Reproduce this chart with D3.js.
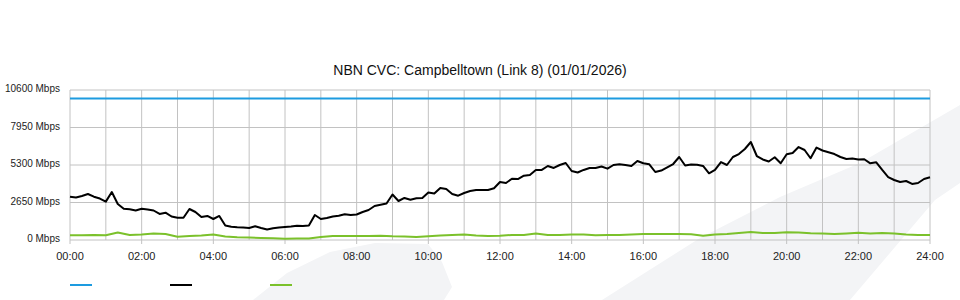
<!DOCTYPE html>
<html>
<head>
<meta charset="utf-8">
<script src="https://cdn.jsdelivr.net/npm/d3@7"></script>
<style>
  body { margin: 0; background: #fff; }
  svg { display: block; font-family: "Liberation Sans", Arial, sans-serif; }
</style>
</head>
<body>
<div id="chart"></div>
<script>
// Chart data (Mbps)
const chartTitle = "NBN CVC: Campbelltown (Link 8) (01/01/2026)";
const yTicks = [0, 2650, 5300, 7950, 10600];
const xTickLabels = ["00:00", "02:00", "04:00", "06:00", "08:00", "10:00", "12:00",
    "14:00", "16:00", "18:00", "20:00", "22:00", "24:00"];

// capacity line
const capacityHours = [0, 24];
const capacityValues = [10000, 10000];

// traffic, one sample every 10 minutes from 00:00 to 24:00
const trafficStepMinutes = 10;
const trafficValues = [
    3060, 3000, 3110, 3250, 3060, 2930, 2710, 3390, 2540, 2210, 2170, 2085,
    2205, 2155, 2085, 1840, 1930, 1660, 1575, 1575, 2190, 1980, 1625, 1700,
    1485, 1700, 1025, 940, 900, 885, 850, 970, 850, 740, 830, 885,
    920, 955, 1010, 990, 1025, 1765, 1485, 1555, 1660, 1715, 1815, 1765,
    1800, 1980, 2120, 2400, 2495, 2580, 3215, 2755, 2970, 2850, 2945, 2970,
    3355, 3285, 3675, 3605, 3250, 3130, 3320, 3465, 3535, 3535, 3535, 3655,
    4100, 4030, 4330, 4310, 4545, 4595, 4950, 4950, 5230, 5090, 5300, 5440,
    4875, 4770, 4950, 5090, 5090, 5195, 5040, 5300, 5350, 5300, 5230, 5580,
    5420, 5350, 4805, 4910, 5140, 5370, 5865, 5265, 5335, 5320, 5230, 4715,
    4950, 5510, 5300, 5865, 6075, 6430, 6925, 5935, 5690, 5550, 5845, 5420,
    6055, 6150, 6570, 6360, 5775, 6535, 6325, 6200, 6075, 5865, 5725, 5760,
    5690, 5705, 5420, 5490, 4950, 4450, 4240, 4100, 4170, 3960, 4030, 4310,
    4430
];

// second series, one sample every 20 minutes
const lowStepMinutes = 20;
const lowValues = [
    330, 330, 355, 330, 530, 355, 390, 460, 425, 235, 280, 320,
    390, 250, 190, 175, 140, 120, 90, 105, 105, 210, 280, 280,
    280, 280, 305, 260, 250, 210, 260, 320, 355, 390, 320, 280,
    305, 355, 355, 460, 355, 355, 390, 390, 330, 355, 355, 390,
    425, 425, 425, 425, 405, 305, 390, 425, 495, 565, 495, 495,
    545, 530, 475, 460, 425, 460, 510, 460, 495, 460, 390, 355,
    355
];

const seriesColors = { capacity: "#1d9be0", traffic: "#000000", low: "#7bc12b" };

const width = 960, height = 300;
const margin = { top: 90, right: 30, bottom: 60, left: 70 };

const svg = d3.select("#chart").append("svg").attr("width", width).attr("height", height);

// faint background watermark
svg.append("path")
    .attr("d", "M253,300 L287,273 L330,252 L375,243 L428,244 L442,262 L452,287 L444,300 Z")
    .attr("fill", "#f3f4f6");
svg.append("path")
    .attr("d", "M602,300 L700,238 L780,197 L860,163 L960,105 L960,183 L935,200 L850,300 Z")
    .attr("fill", "#f3f4f6");

const x = d3.scaleLinear().domain([0, 24]).range([margin.left, width - margin.right]);
const y = d3.scaleLinear().domain([0, 10600]).range([height - margin.bottom, margin.top]);

// grid
svg.append("g").selectAll("line").data(d3.range(0, 25)).enter().append("line")
    .attr("x1", d => x(d)).attr("x2", d => x(d))
    .attr("y1", y(10600)).attr("y2", d => d % 2 === 0 ? y(0) + 4 : y(0))
    .attr("stroke", "#c2c2c2").attr("stroke-width", 1);
svg.append("g").selectAll("line").data(yTicks).enter().append("line")
    .attr("x1", x(0)).attr("x2", x(24))
    .attr("y1", d => y(d)).attr("y2", d => y(d))
    .attr("stroke", "#c2c2c2").attr("stroke-width", 1);

// axis labels
svg.append("g").selectAll("text").data(yTicks).enter().append("text")
    .attr("x", margin.left - 10).attr("y", d => y(d) - 1.5).attr("dy", "0.35em")
    .attr("text-anchor", "end").style("font-size", "10px").attr("fill", "#222")
    .text(d => `${d} Mbps`);
svg.append("g").selectAll("text").data(xTickLabels).enter().append("text")
    .attr("x", (d, i) => x(i * 2)).attr("y", height - margin.bottom + 20)
    .attr("text-anchor", "middle").style("font-size", "11px").attr("fill", "#222")
    .text(d => d);

// title
svg.append("text").attr("x", width / 2).attr("y", 75).attr("text-anchor", "middle")
    .style("font-size", "14px").attr("fill", "#111").text(chartTitle);

// series
const line = d3.line().x(d => x(d[0])).y(d => y(d[1]));
const capacity = capacityHours.map((h, i) => [h, capacityValues[i]]);
const traffic = trafficValues.map((v, i) => [i * trafficStepMinutes / 60, v]);
const low = lowValues.map((v, i) => [i * lowStepMinutes / 60, v]);

svg.append("path").datum(capacity).attr("d", line)
    .attr("fill", "none").attr("stroke", seriesColors.capacity).attr("stroke-width", 2);
svg.append("path").datum(low).attr("d", line)
    .attr("fill", "none").attr("stroke", seriesColors.low).attr("stroke-width", 2)
    .attr("stroke-linejoin", "round");
svg.append("path").datum(traffic).attr("d", line)
    .attr("fill", "none").attr("stroke", seriesColors.traffic).attr("stroke-width", 2)
    .attr("stroke-linejoin", "round");

// legend swatches (no text)
const legendItems = ["capacity", "traffic", "low"];
svg.append("g").selectAll("line").data(legendItems).enter().append("line")
    .attr("x1", (d, i) => 70 + i * 100).attr("x2", (d, i) => 92 + i * 100)
    .attr("y1", 285).attr("y2", 285)
    .attr("stroke", d => seriesColors[d]).attr("stroke-width", 2);
</script>
</body>
</html>
